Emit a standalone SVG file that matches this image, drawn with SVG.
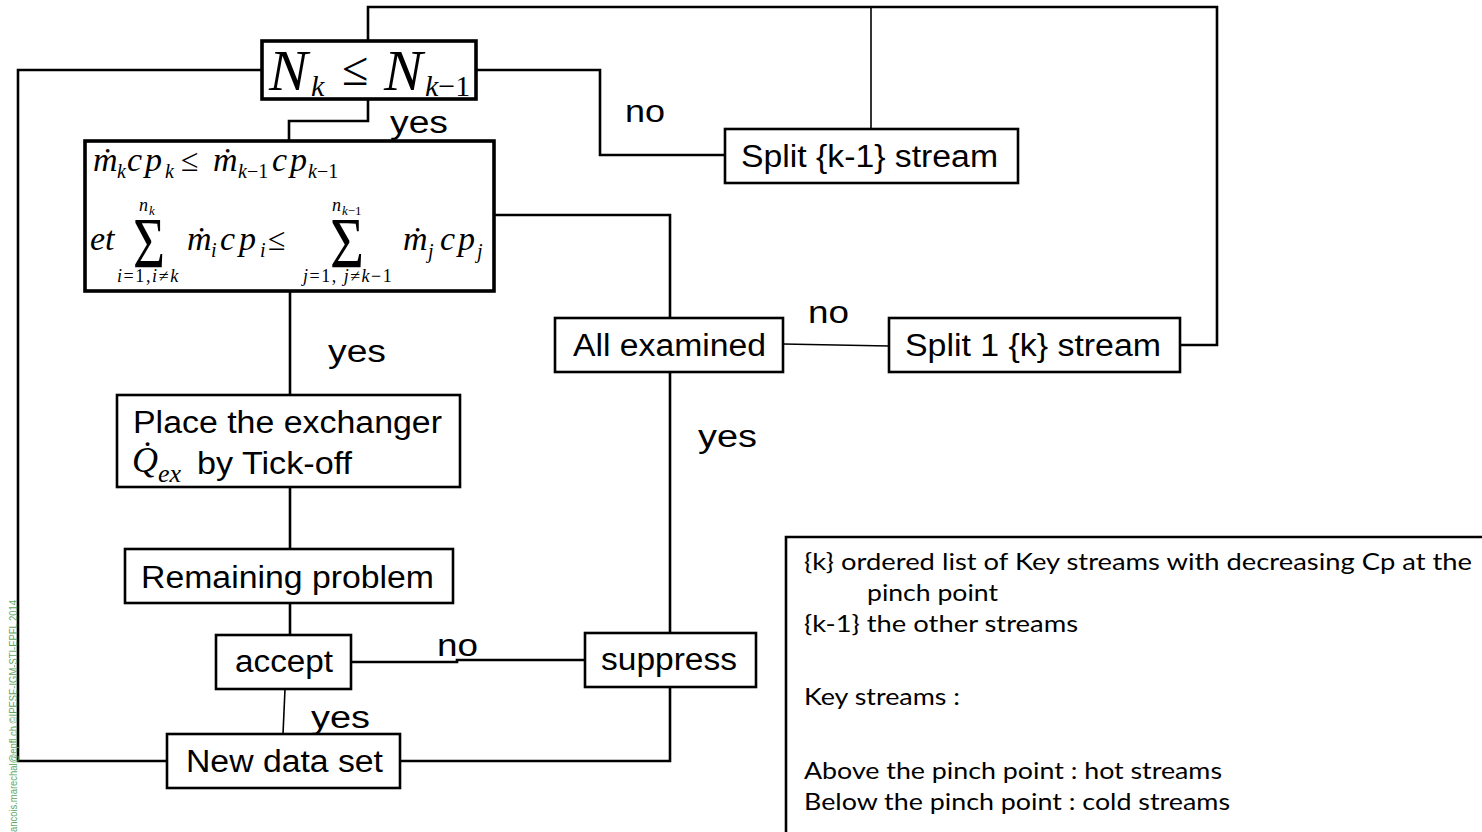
<svg xmlns="http://www.w3.org/2000/svg" width="1482" height="832" viewBox="0 0 1482 832">
<style>
.box{fill:#fff;stroke:#000;stroke-width:2.6}
.fbox{fill:#fff;stroke:#000;stroke-width:3.6}
.ln{fill:none;stroke:#000;stroke-width:2.6}
.thin{fill:none;stroke:#000;stroke-width:1.6}
.t{font-family:"Liberation Sans",Arial,sans-serif;font-size:31px;fill:#000}
.lb{font-family:"Liberation Sans",Arial,sans-serif;font-size:31px;fill:#000}
.mi{font-family:"Liberation Serif","Times New Roman",serif;font-style:italic;fill:#000}
.mr{font-family:"Liberation Serif","Times New Roman",serif;font-style:normal;fill:#000}
.n{font-family:Lato,"Open Sans",sans-serif;font-size:24px;fill:#000}
.wm{font-family:"Liberation Sans",Arial,sans-serif;font-size:11px;fill:#5ea85e}
</style>
<rect width="1482" height="832" fill="#fff"/>
<g id="connectors">
<path class="ln" d="M368,41 V7 H1217 V345 H1180"/>
<path class="thin" d="M871,7 V129"/>
<path class="ln" d="M476,70 H600 V155 H725"/>
<path class="ln" d="M368,99 V121 H289 V141"/>
<path class="ln" d="M262,70 H18 V761 H167"/>
<path class="ln" d="M494,215 H670 V318"/>
<path class="thin" d="M783,344 L889,346"/>
<path class="ln" d="M670,372 V633"/>
<path class="ln" d="M290,291 V395"/>
<path class="ln" d="M290,487 V549"/>
<path class="ln" d="M290,603 V635"/>
<path class="ln" d="M351,662 H457 V660 H585"/>
<path class="thin" d="M285,689 L283,734"/>
<path class="ln" d="M670,687 V761 H400"/>
</g>
<g id="labels">
<text class="lb" x="390" y="133" textLength="58" lengthAdjust="spacingAndGlyphs">yes</text>
<text class="lb" x="625" y="122" textLength="40" lengthAdjust="spacingAndGlyphs">no</text>
<text class="lb" x="328" y="362" textLength="58" lengthAdjust="spacingAndGlyphs">yes</text>
<text class="lb" x="808" y="323" textLength="41" lengthAdjust="spacingAndGlyphs">no</text>
<text class="lb" x="698" y="447" textLength="59" lengthAdjust="spacingAndGlyphs">yes</text>
<text class="lb" x="437" y="656" textLength="41" lengthAdjust="spacingAndGlyphs">no</text>
<text class="lb" x="311" y="728" textLength="59" lengthAdjust="spacingAndGlyphs">yes</text>
</g>
<g id="node-nk">
<rect class="fbox" x="262" y="41" width="214" height="58"/>
<text class="mi" font-size="58"><tspan x="269" y="90">N</tspan><tspan x="311" y="96" font-size="30">k</tspan><tspan class="mr" x="342" y="85" font-size="48">≤</tspan><tspan x="384" y="90">N</tspan><tspan x="425" y="96" font-size="30">k<tspan class="mr">−1</tspan></tspan></text>
</g>
<g id="node-condition">
<rect class="fbox" x="85" y="141" width="409" height="150"/>
<text class="mi" font-size="34"><tspan x="93" y="171">ṁ</tspan><tspan x="117" y="178" font-size="20">k</tspan><tspan x="127" y="171">c</tspan><tspan x="145" y="171">p</tspan><tspan x="165" y="178" font-size="20">k</tspan><tspan class="mr" x="181" y="171" font-size="32">≤</tspan><tspan x="213" y="171">ṁ</tspan><tspan x="238" y="178" font-size="20">k<tspan class="mr">−1</tspan></tspan><tspan x="272" y="171">c</tspan><tspan x="290" y="171">p</tspan><tspan x="308" y="178" font-size="20">k<tspan class="mr">−1</tspan></tspan></text>
<text class="mi" font-size="34"><tspan x="90" y="250">et</tspan><tspan class="mr" x="133" y="267" font-size="72" textLength="32" lengthAdjust="spacingAndGlyphs">Σ</tspan><tspan x="139" y="211" font-size="18">n</tspan><tspan x="149" y="215" font-size="13">k</tspan><tspan x="117" y="282" font-size="18" letter-spacing="1.6">i<tspan class="mr">=1,</tspan>i<tspan class="mr">≠</tspan>k</tspan><tspan x="187" y="250">ṁ</tspan><tspan x="211" y="257" font-size="20">i</tspan><tspan x="220" y="250">c</tspan><tspan x="239" y="250">p</tspan><tspan x="260" y="257" font-size="20">i</tspan><tspan class="mr" x="268" y="250" font-size="32">≤</tspan><tspan class="mr" x="330" y="267" font-size="72" textLength="34" lengthAdjust="spacingAndGlyphs">Σ</tspan><tspan x="332" y="211" font-size="18">n</tspan><tspan x="342" y="215" font-size="13">k<tspan class="mr">−1</tspan></tspan><tspan x="303" y="282" font-size="18" letter-spacing="1.5">j<tspan class="mr">=1,</tspan> j<tspan class="mr">≠</tspan>k<tspan class="mr">−1</tspan></tspan><tspan x="403" y="250">ṁ</tspan><tspan x="428" y="258" font-size="20">j</tspan><tspan x="440" y="250">c</tspan><tspan x="458" y="250">p</tspan><tspan x="477" y="258" font-size="20">j</tspan></text>
</g>
<g id="node-split-k1">
<rect class="box" x="725" y="129" width="293" height="54"/>
<text class="t" x="741" y="167" textLength="257" lengthAdjust="spacingAndGlyphs">Split {k-1} stream</text>
</g>
<g id="node-all-examined">
<rect class="box" x="555" y="318" width="228" height="54"/>
<text class="t" x="573" y="356" textLength="193" lengthAdjust="spacingAndGlyphs">All examined</text>
</g>
<g id="node-split-1k">
<rect class="box" x="889" y="318" width="291" height="54"/>
<text class="t" x="905" y="356" textLength="256" lengthAdjust="spacingAndGlyphs">Split 1 {k} stream</text>
</g>
<g id="node-place">
<rect class="box" x="117" y="395" width="343" height="92"/>
<text class="t" x="133" y="433" textLength="309" lengthAdjust="spacingAndGlyphs">Place the exchanger</text>
<text class="mi" font-size="36"><tspan x="132" y="472">Q̇</tspan><tspan x="158" y="482" font-size="26">ex</tspan></text>
<text class="t" x="197" y="474" textLength="155" lengthAdjust="spacingAndGlyphs">by Tick-off</text>
</g>
<g id="node-remaining">
<rect class="box" x="125" y="549" width="328" height="54"/>
<text class="t" x="141" y="588" textLength="293" lengthAdjust="spacingAndGlyphs">Remaining problem</text>
</g>
<g id="node-accept">
<rect class="box" x="216" y="635" width="135" height="54"/>
<text class="t" x="235" y="672" textLength="98" lengthAdjust="spacingAndGlyphs">accept</text>
</g>
<g id="node-suppress">
<rect class="box" x="585" y="633" width="171" height="54"/>
<text class="t" x="601" y="670" textLength="136" lengthAdjust="spacingAndGlyphs">suppress</text>
</g>
<g id="node-new-data-set">
<rect class="box" x="167" y="734" width="233" height="54"/>
<text class="t" x="186" y="772" textLength="197" lengthAdjust="spacingAndGlyphs">New data set</text>
</g>
<g id="note">
<path class="ln" d="M1486,537 H786 V836"/>
<text class="n" x="804" y="570" textLength="668" lengthAdjust="spacingAndGlyphs">{k} ordered list of Key streams with decreasing Cp at the</text>
<text class="n" x="867" y="601" textLength="131" lengthAdjust="spacingAndGlyphs">pinch point</text>
<text class="n" x="804" y="632" textLength="274" lengthAdjust="spacingAndGlyphs">{k-1} the other streams</text>
<text class="n" x="804" y="705" textLength="156" lengthAdjust="spacingAndGlyphs">Key streams :</text>
<text class="n" x="804" y="779" textLength="418" lengthAdjust="spacingAndGlyphs">Above the pinch point : hot streams</text>
<text class="n" x="804" y="810" textLength="426" lengthAdjust="spacingAndGlyphs">Below the pinch point : cold streams</text>
</g>
<g id="watermark">
<text class="wm" transform="translate(17,832) rotate(-90)" textLength="232" lengthAdjust="spacingAndGlyphs">ancois.marechal@epfl.ch ©IPESE-IGM-STI-EPFL 2014</text>
</g>
</svg>
